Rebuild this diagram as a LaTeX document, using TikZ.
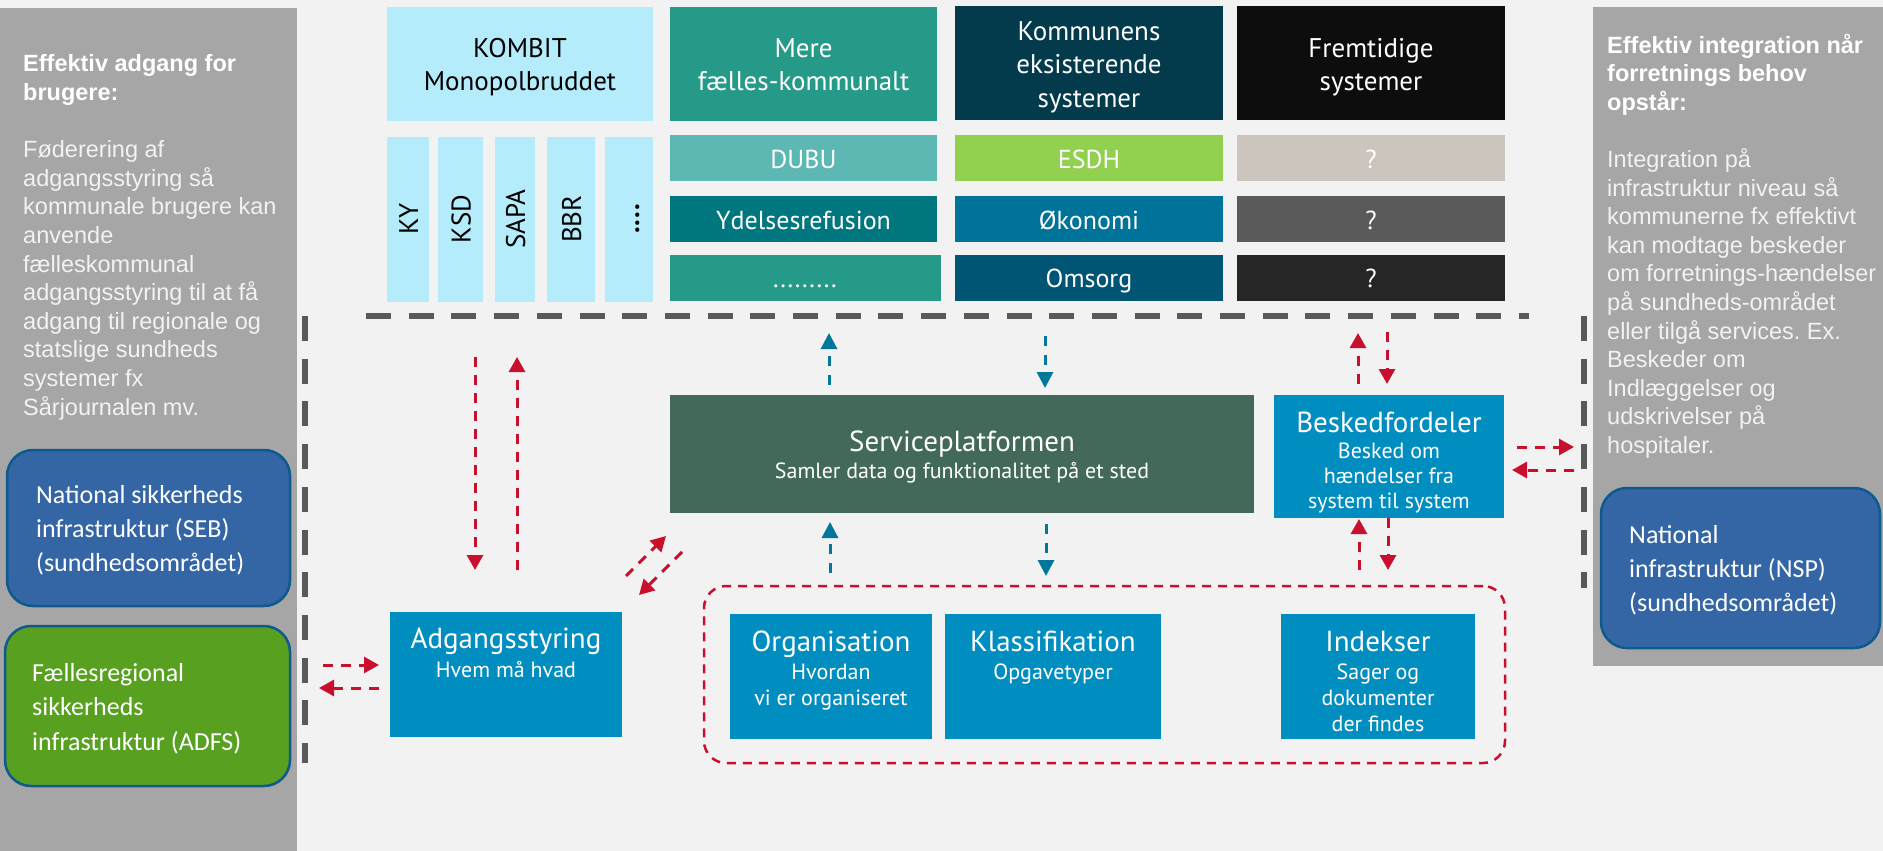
\documentclass[tikz,border=0pt]{standalone}
\usepackage{fontspec}
\setmainfont{PT Sans}
\newfontfamily\arialf{Liberation Sans}
\newfontfamily\calib{Carlito}
\usetikzlibrary{arrows.meta}
\frenchspacing
\newcommand\myfs[2]{\fontsize{#1}{#2}\selectfont}
\definecolor{bgc}{HTML}{F2F2F2}
\definecolor{panel}{HTML}{A6A6A6}
\definecolor{dgray}{HTML}{595959}
\definecolor{kombit}{HTML}{B4ECFC}
\definecolor{teal1}{HTML}{269A88}
\definecolor{kommhdr}{HTML}{033A4C}
\definecolor{fremhdr}{HTML}{0D0D0D}
\definecolor{dubu}{HTML}{5DB8B3}
\definecolor{esdh}{HTML}{92D050}
\definecolor{qone}{HTML}{CCC5BE}
\definecolor{ydel}{HTML}{00777F}
\definecolor{okon}{HTML}{00739B}
\definecolor{qtwo}{HTML}{5A5A5A}
\definecolor{omsorg}{HTML}{005574}
\definecolor{qthree}{HTML}{262626}
\definecolor{splat}{HTML}{43695A}
\definecolor{bfblue}{HTML}{008EC1}
\definecolor{arrred}{HTML}{C8102E}
\definecolor{arrblue}{HTML}{00779B}
\definecolor{natblue}{HTML}{3465A5}
\definecolor{natedge}{HTML}{0F5A8C}
\definecolor{adfs}{HTML}{58A01F}
\definecolor{ptext}{HTML}{F2F2F2}
\begin{document}
\begin{tikzpicture}[x=1pt,y=-1pt,
  blk/.style={inner sep=0pt, outer sep=0pt, anchor=north west, draw=none},
  tx/.style={inner sep=0pt, outer sep=0pt, anchor=base, align=center},
  hdr/.style={tx, font={\myfs{27}{33.5}}},
  rowtx/.style={tx, font={\myfs{26}{30}}, text=white},
  ttl/.style={tx, font={\myfs{29}{34}}, text=white},
  subtx/.style={tx, font={\myfs{22}{26}}, text=white},
  ptxt/.style={inner sep=0pt, anchor=base west, align=left, font={\arialf\myfs{23.5}{28.6}}, text=ptext},
  rtxt/.style={inner sep=0pt, anchor=base west, align=left, font={\calib\myfs{26}{34.3}}, text=white},
  rbox/.style={blk, draw=natedge, line width=2.5pt, rounded corners=26pt},
  gdash/.style={draw=dgray, line width=6pt, dash pattern=on 25pt off 17.7pt},
  rarr/.style={draw=arrred, line width=3pt, dash pattern=on 10pt off 8pt, -{Triangle[width=16pt,length=15pt]}},
  barr/.style={draw=arrblue, line width=3pt, dash pattern=on 10pt off 9pt, -{Triangle[width=16pt,length=16pt]}},
]
\fill[bgc] (0,0) rectangle (1883,851);
\useasboundingbox (0,0) rectangle (1883,851);

% side panels
\node[blk, fill=panel, minimum width=297pt, minimum height=843pt] (lpanel) at (0,8) {};
\node[blk, fill=panel, minimum width=290pt, minimum height=659pt] (rpanel) at (1593,7) {};

% (multi-line nodes: anchor base = baseline of the last line)
\node[ptxt] (ltext) at (23,415) {\textcolor{white}{\bfseries Effektiv adgang for}\\
\textcolor{white}{\bfseries brugere:}\\[28.6pt]
Føderering af\\
adgangsstyring så\\
kommunale brugere kan\\
anvende\\
fælleskommunal\\
adgangsstyring til at få\\
adgang til regionale og\\
statslige sundheds\\
systemer fx\\
Sårjournalen mv.};

\node[ptxt] (rtext) at (1607,453.4) {\textcolor{white}{\bfseries Effektiv integration når}\\
\textcolor{white}{\bfseries forretnings behov}\\
\textcolor{white}{\bfseries opstår:}\\[28.6pt]
Integration på\\
infrastruktur niveau så\\
kommunerne fx effektivt\\
kan modtage beskeder\\
om forretnings-hændelser\\
på sundheds-området\\
eller tilgå services. Ex.\\
Beskeder om\\
Indlæggelser og\\
udskrivelser på\\
hospitaler.};

% rounded infrastructure boxes
\node[rbox, fill=natblue, minimum width=283pt, minimum height=156pt] (seb) at (7,450) {};
\node[rtxt] (seb-t) at (36,571.6) {National sikkerheds\\infrastruktur (SEB)\\(sundhedsområdet)};
\node[rbox, fill=adfs, minimum width=285pt, minimum height=160pt] (adfsb) at (5,626) {};
\node[rtxt] (adfs-t) at (32,750) {Fællesregional\\sikkerheds\\infrastruktur (ADFS)};
\node[rbox, fill=natblue, minimum width=279pt, minimum height=160pt] (nsp) at (1601,488) {};
\node[rtxt] (nsp-t) at (1629,611.6) {National\\infrastruktur (NSP)\\(sundhedsområdet)};

% header boxes
\node[blk, fill=kombit, minimum width=266pt, minimum height=114pt] (kombit) at (387,7) {};
\node[hdr, text=black] (kombit-t) at (520,91) {KOMBIT\\Monopolbruddet};
\node[blk, fill=teal1, minimum width=267pt, minimum height=114pt] (mere) at (670,7) {};
\node[hdr, text=white] (mere-t) at (803.5,91) {Mere\\fælles-kommunalt};
\node[blk, fill=kommhdr, minimum width=268pt, minimum height=114pt] (komm) at (955,6) {};
\node[hdr, text=white] (komm-t) at (1089,107) {Kommunens\\eksisterende\\systemer};
\node[blk, fill=fremhdr, minimum width=268pt, minimum height=114pt] (frem) at (1237,6) {};
\node[hdr, text=white] (frem-t) at (1371,91) {Fremtidige\\systemer};

% KOMBIT columns
\node[blk, fill=kombit, minimum width=42pt, minimum height=165pt] (ky) at (387,137) {};
\node[blk, fill=kombit, minimum width=45pt, minimum height=165pt] (ksd) at (438,137) {};
\node[blk, fill=kombit, minimum width=40pt, minimum height=165pt] (sapa) at (495,137) {};
\node[blk, fill=kombit, minimum width=48pt, minimum height=165pt] (bbr) at (547,137) {};
\node[blk, fill=kombit, minimum width=48pt, minimum height=165pt] (dots) at (605,137) {};
\node[hdr, text=black, rotate=90] (ky-t) at (418,219) {KY};
\node[hdr, text=black, rotate=90] (ksd-t) at (470.5,219) {KSD};
\node[hdr, text=black, rotate=90] (sapa-t) at (525,219) {SAPA};
\node[hdr, text=black, rotate=90] (bbr-t) at (581,219) {BBR};
\node[hdr, text=black, rotate=90, font={\bfseries\myfs{27}{33.5}}] (dots-t) at (639,219) {.\kern1pt.\kern1pt.\kern1pt.};

% rows
\node[blk, fill=dubu, minimum width=267pt, minimum height=46pt] (dubu) at (670,135) {};
\node[rowtx] (dubu-t) at (803.5,168) {DUBU};
\node[blk, fill=ydel, minimum width=267pt, minimum height=46pt] (ydel) at (670,196) {};
\node[rowtx] (ydel-t) at (803.5,229) {Ydelsesrefusion};
\node[blk, fill=teal1, minimum width=271pt, minimum height=46pt] (mdots) at (670,255) {};
\node[rowtx] (mdots-t) at (805,287) {.........};
\node[blk, fill=esdh, minimum width=268pt, minimum height=46pt] (esdh) at (955,135) {};
\node[rowtx] (esdh-t) at (1089,168) {ESDH};
\node[blk, fill=okon, minimum width=268pt, minimum height=46pt] (okon) at (955,196) {};
\node[rowtx] (okon-t) at (1089,229) {Økonomi};
\node[blk, fill=omsorg, minimum width=268pt, minimum height=46pt] (omsorg) at (955,255) {};
\node[rowtx] (omsorg-t) at (1089,287) {Omsorg};
\node[blk, fill=qone, minimum width=268pt, minimum height=46pt] (qa) at (1237,135) {};
\node[rowtx] (qa-t) at (1371,168) {?};
\node[blk, fill=qtwo, minimum width=268pt, minimum height=46pt] (qb) at (1237,196) {};
\node[rowtx] (qb-t) at (1371,229) {?};
\node[blk, fill=qthree, minimum width=268pt, minimum height=46pt] (qc) at (1237,255) {};
\node[rowtx] (qc-t) at (1371,287) {?};

% middle boxes
\node[blk, fill=splat, minimum width=584pt, minimum height=118pt] (splat) at (670,395) {};
\node[ttl] (splat-t) at (962,451) {Serviceplatformen};
\node[subtx] (splat-s) at (962,478) {Samler data og funktionalitet på et sted};
\node[blk, fill=bfblue, minimum width=230pt, minimum height=123pt] (besked) at (1274,395) {};
\node[ttl] (besked-t) at (1389,432) {Beskedfordeler};
\node[subtx, font={\myfs{22}{25}}] (besked-s) at (1389,508) {Besked om\\hændelser fra\\system til system};
\node[blk, fill=bfblue, minimum width=232pt, minimum height=125pt] (adg) at (390,612) {};
\node[ttl] (adg-t) at (506,648) {Adgangsstyring};
\node[subtx] (adg-s) at (506,677) {Hvem må hvad};

\node[blk, draw=arrred, line width=2.5pt, dash pattern=on 9pt off 7pt, rounded corners=22pt, minimum width=801pt, minimum height=177pt] (grp) at (704,586) {};
\node[blk, fill=bfblue, minimum width=202pt, minimum height=125pt] (org) at (730,614) {};
\node[ttl] (org-t) at (831,651) {Organisation};
\node[subtx] (org-s) at (831,705) {Hvordan\\vi er organiseret};
\node[blk, fill=bfblue, minimum width=216pt, minimum height=125pt] (klas) at (945,614) {};
\node[ttl] (klas-t) at (1053,651) {Klassifikation};
\node[subtx] (klas-s) at (1053,679) {Opgavetyper};
\node[blk, fill=bfblue, minimum width=194pt, minimum height=125pt] (idx) at (1281,614) {};
\node[ttl] (idx-t) at (1378,651) {Indekser};
\node[subtx] (idx-s) at (1378,731) {Sager og\\dokumenter\\der findes};

% gray dashed boundaries
\coordinate (hA) at (366,316); \coordinate (hB) at (1529,316);
\coordinate (vlA) at (305,316); \coordinate (vlB) at (305,763);
\coordinate (vrA) at (1584,316); \coordinate (vrB) at (1584,588);
\draw[gdash] (hA) -- (hB);
\draw[gdash] (vlA) -- (vlB);
\draw[gdash] (vrA) -- (vrB);

% arrows
\foreach \n/\xa/\ya/\xb/\yb/\st in {
  a1/475/357/475/570/rarr,
  a2/517/570/517/357/rarr,
  a3/626/576/666/536/rarr,
  a4/682/552/639/595/rarr,
  a5/323/665/379/665/rarr,
  a6/379/688/319/688/rarr,
  a7/829/385/829/333/barr,
  a8/1045/336/1045/388/barr,
  a9/830/573/830/522/barr,
  a10/1046/524/1046/576/barr,
  a11/1358/384/1358/333/rarr,
  a12/1387/332/1387/384/rarr,
  a13/1359/570/1359/519/rarr,
  a14/1388/518/1388/570/rarr,
  a15/1517/447/1574/447/rarr,
  a16/1574/470/1512/470/rarr}{
  \coordinate (\n s) at (\xa,\ya);
  \coordinate (\n e) at (\xb,\yb);
  \draw[\st] (\n s) -- (\n e);
}
\end{tikzpicture}
\end{document}
